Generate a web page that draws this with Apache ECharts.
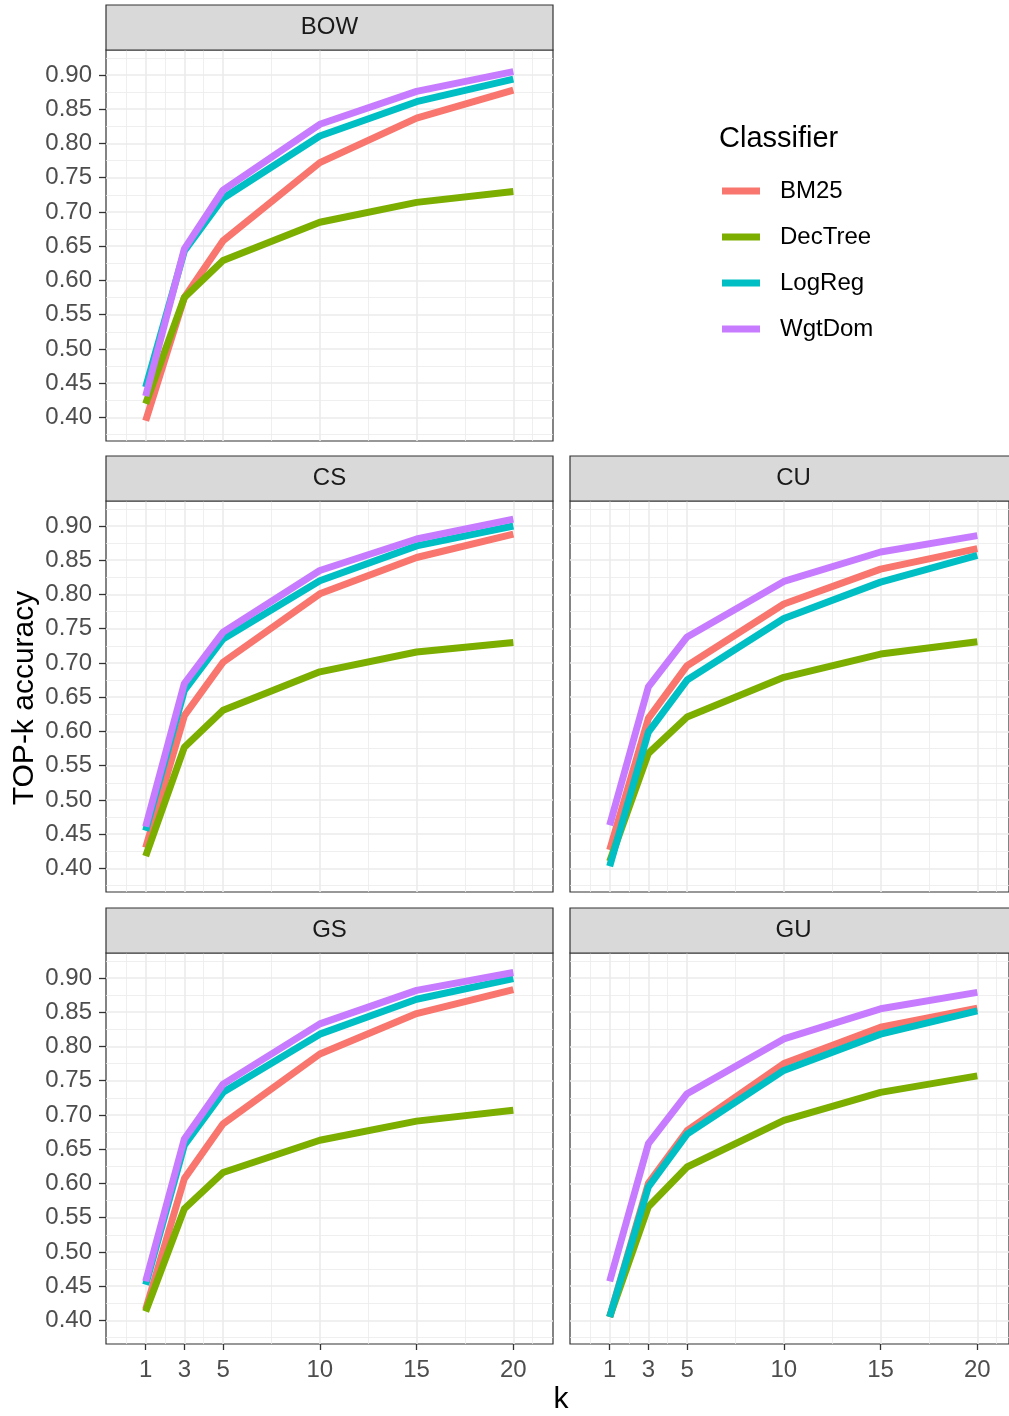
<!DOCTYPE html>
<html>
<head>
<meta charset="utf-8">
<script src="https://cdn.jsdelivr.net/npm/echarts@6/dist/echarts.min.js"></script>
<style>
html,body{margin:0;padding:0;background:#fff;}
#chart{width:1009px;height:1416px;}
</style>
</head>
<body>
<div id="chart"></div>
<script>
// ---- data ----
const ks = [1, 3, 5, 10, 15, 20];
const classifiers = ['BM25', 'DecTree', 'LogReg', 'WgtDom'];
const colors = ['#F8766D', '#7CAE00', '#00BFC4', '#C77CFF'];
const panels = ['BOW', 'CS', 'CU', 'GS', 'GU'];
const xTicks = [1, 3, 5, 10, 15, 20];
const xMinor = [0, 2, 4, 7.5, 12.5, 17.5, 21];
const yTicks = [0.40, 0.45, 0.50, 0.55, 0.60, 0.65, 0.70, 0.75, 0.80, 0.85, 0.90];
const yMinor = [0.375, 0.425, 0.475, 0.525, 0.575, 0.625, 0.675, 0.725, 0.775, 0.825, 0.875, 0.925];

// rows: BM25, DecTree, LogReg, WgtDom ; columns: k = 1,3,5,10,15,20
const BOW = [
  [0.395, 0.575, 0.658, 0.772, 0.837, 0.878],
  [0.420, 0.575, 0.629, 0.685, 0.714, 0.730],
  [0.444, 0.643, 0.720, 0.811, 0.861, 0.894],
  [0.431, 0.646, 0.732, 0.828, 0.876, 0.905]
];
const CS = [
  [0.430, 0.623, 0.701, 0.801, 0.854, 0.888],
  [0.418, 0.577, 0.631, 0.687, 0.716, 0.730],
  [0.455, 0.660, 0.735, 0.820, 0.871, 0.900],
  [0.461, 0.670, 0.745, 0.835, 0.881, 0.910]
];
const CU = [
  [0.427, 0.619, 0.696, 0.786, 0.837, 0.867],
  [0.410, 0.568, 0.621, 0.679, 0.713, 0.731],
  [0.403, 0.599, 0.675, 0.765, 0.818, 0.857],
  [0.463, 0.665, 0.738, 0.819, 0.862, 0.886]
];
const GS = [
  [0.416, 0.607, 0.687, 0.789, 0.848, 0.883],
  [0.413, 0.563, 0.616, 0.663, 0.691, 0.707],
  [0.452, 0.656, 0.733, 0.818, 0.869, 0.899],
  [0.457, 0.665, 0.745, 0.833, 0.882, 0.908]
];
const GU = [
  [0.405, 0.600, 0.677, 0.775, 0.828, 0.856],
  [0.405, 0.566, 0.624, 0.692, 0.733, 0.757],
  [0.405, 0.595, 0.672, 0.765, 0.818, 0.852],
  [0.457, 0.658, 0.731, 0.811, 0.855, 0.879]
];
const panelData = [BOW, CS, CU, GS, GU];

// ---- layout ----
const FONT = '"Liberation Sans", Arial, sans-serif';
const PW = 447, PH = 391, STRIP = 45;
const PXU = PW / 23.1; // pixels per k unit
const layout = [
  {left: 106, top: 50, w: PW, yLab: true, xLab: false},
  {left: 106, top: 501, w: PW, yLab: true, xLab: false},
  {left: 570, top: 501, w: 439, yLab: false, xLab: false},
  {left: 106, top: 953, w: PW, yLab: true, xLab: true},
  {left: 570, top: 953, w: 439, yLab: false, xLab: true}
];
const XMIN = -1.05, YMIN = 0.3655, YMAX = 0.9365;

const grids = [], xAxes = [], yAxes = [], series = [], graphics = [];
layout.forEach((L, i) => {
  const xmax = XMIN + L.w / PXU;
  grids.push({left: L.left, top: L.top, width: L.w, height: PH, show: true,
    borderColor: '#333333', borderWidth: 1.2, backgroundColor: '#ffffff', containLabel: false});
  xAxes.push({type: 'value', gridIndex: i, min: XMIN, max: xmax, position: 'bottom',
    axisLine: {show: false, onZero: false},
    axisTick: {show: L.xLab, customValues: xTicks, length: 6, lineStyle: {color: '#333333', width: 1.3}},
    axisLabel: {show: L.xLab, customValues: xTicks, margin: 14, fontSize: 24, color: '#4d4d4d', fontFamily: FONT},
    splitLine: {show: true, lineStyle: {color: '#ebebeb', width: 1.6}}
  });
  xAxes.push({type: 'value', gridIndex: i, min: XMIN, max: xmax, position: 'bottom',
    axisLine: {show: false, onZero: false},
    axisTick: {show: false, customValues: xMinor},
    axisLabel: {show: false, customValues: xMinor},
    splitLine: {show: true, lineStyle: {color: '#ebebeb', width: 0.8}}
  });
  yAxes.push({type: 'value', gridIndex: i, min: YMIN, max: YMAX, position: 'left',
    axisLine: {show: false, onZero: false},
    axisTick: {show: L.yLab, customValues: yTicks, length: 7, lineStyle: {color: '#333333', width: 1.3}},
    axisLabel: {show: L.yLab, customValues: yTicks, margin: 14, fontSize: 24, color: '#4d4d4d', fontFamily: FONT,
      formatter: v => Number(v).toFixed(2)},
    splitLine: {show: true, lineStyle: {color: '#ebebeb', width: 1.6}}
  });
  yAxes.push({type: 'value', gridIndex: i, min: YMIN, max: YMAX, position: 'left',
    axisLine: {show: false, onZero: false},
    axisTick: {show: false, customValues: yMinor},
    axisLabel: {show: false, customValues: yMinor},
    splitLine: {show: true, lineStyle: {color: '#ebebeb', width: 0.8}}
  });
  const D = panelData[i];
  classifiers.forEach((c, j) => {
    series.push({
      name: c, type: 'line', xAxisIndex: 2 * i, yAxisIndex: 2 * i,
      data: ks.map((k, n) => [k, D[j][n]]),
      symbol: 'none', showSymbol: false, silent: true,
      color: colors[j],
      lineStyle: {width: 7, color: colors[j], join: 'round', cap: 'butt'},
      z: 3 + j
    });
  });
  graphics.push({type: 'rect', shape: {x: L.left, y: L.top - STRIP, width: PW, height: STRIP},
    style: {fill: '#d9d9d9', stroke: '#333333', lineWidth: 1.2}, z: 10});
  graphics.push({type: 'text', x: L.left + PW / 2, y: L.top - STRIP / 2,
    style: {text: panels[i], fill: '#1a1a1a', font: '24px ' + FONT, textAlign: 'center', textVerticalAlign: 'middle'}, z: 11});
});

graphics.push({type: 'text', x: 561, y: 1400,
  style: {text: 'k', fill: '#000000', font: '30px ' + FONT, textAlign: 'center', textVerticalAlign: 'middle'}, z: 11});
graphics.push({type: 'text', x: 25, y: 698, rotation: Math.PI / 2,
  style: {text: 'TOP-k accuracy', fill: '#000000', font: '30px ' + FONT, textAlign: 'center', textVerticalAlign: 'middle'}, z: 11});
graphics.push({type: 'text', x: 719, y: 139,
  style: {text: 'Classifier', fill: '#000000', font: '29px ' + FONT, textAlign: 'left', textVerticalAlign: 'middle'}, z: 11});

const chart = echarts.init(document.getElementById('chart'), null, {renderer: 'canvas'});
chart.setOption({
  backgroundColor: '#ffffff',
  animation: false,
  grid: grids,
  xAxis: xAxes,
  yAxis: yAxes,
  legend: {
    data: classifiers.map(c => ({name: c, icon: 'rect'})),
    orient: 'vertical', left: 722, top: 177, padding: 0,
    itemWidth: 38, itemHeight: 7, itemGap: 18,
    textStyle: {fontSize: 24, color: '#000000', fontFamily: FONT, lineHeight: 28, padding: [0, 0, 0, 15]},
    selectedMode: false
  },
  series: series,
  graphic: graphics
});
</script>
</body>
</html>
